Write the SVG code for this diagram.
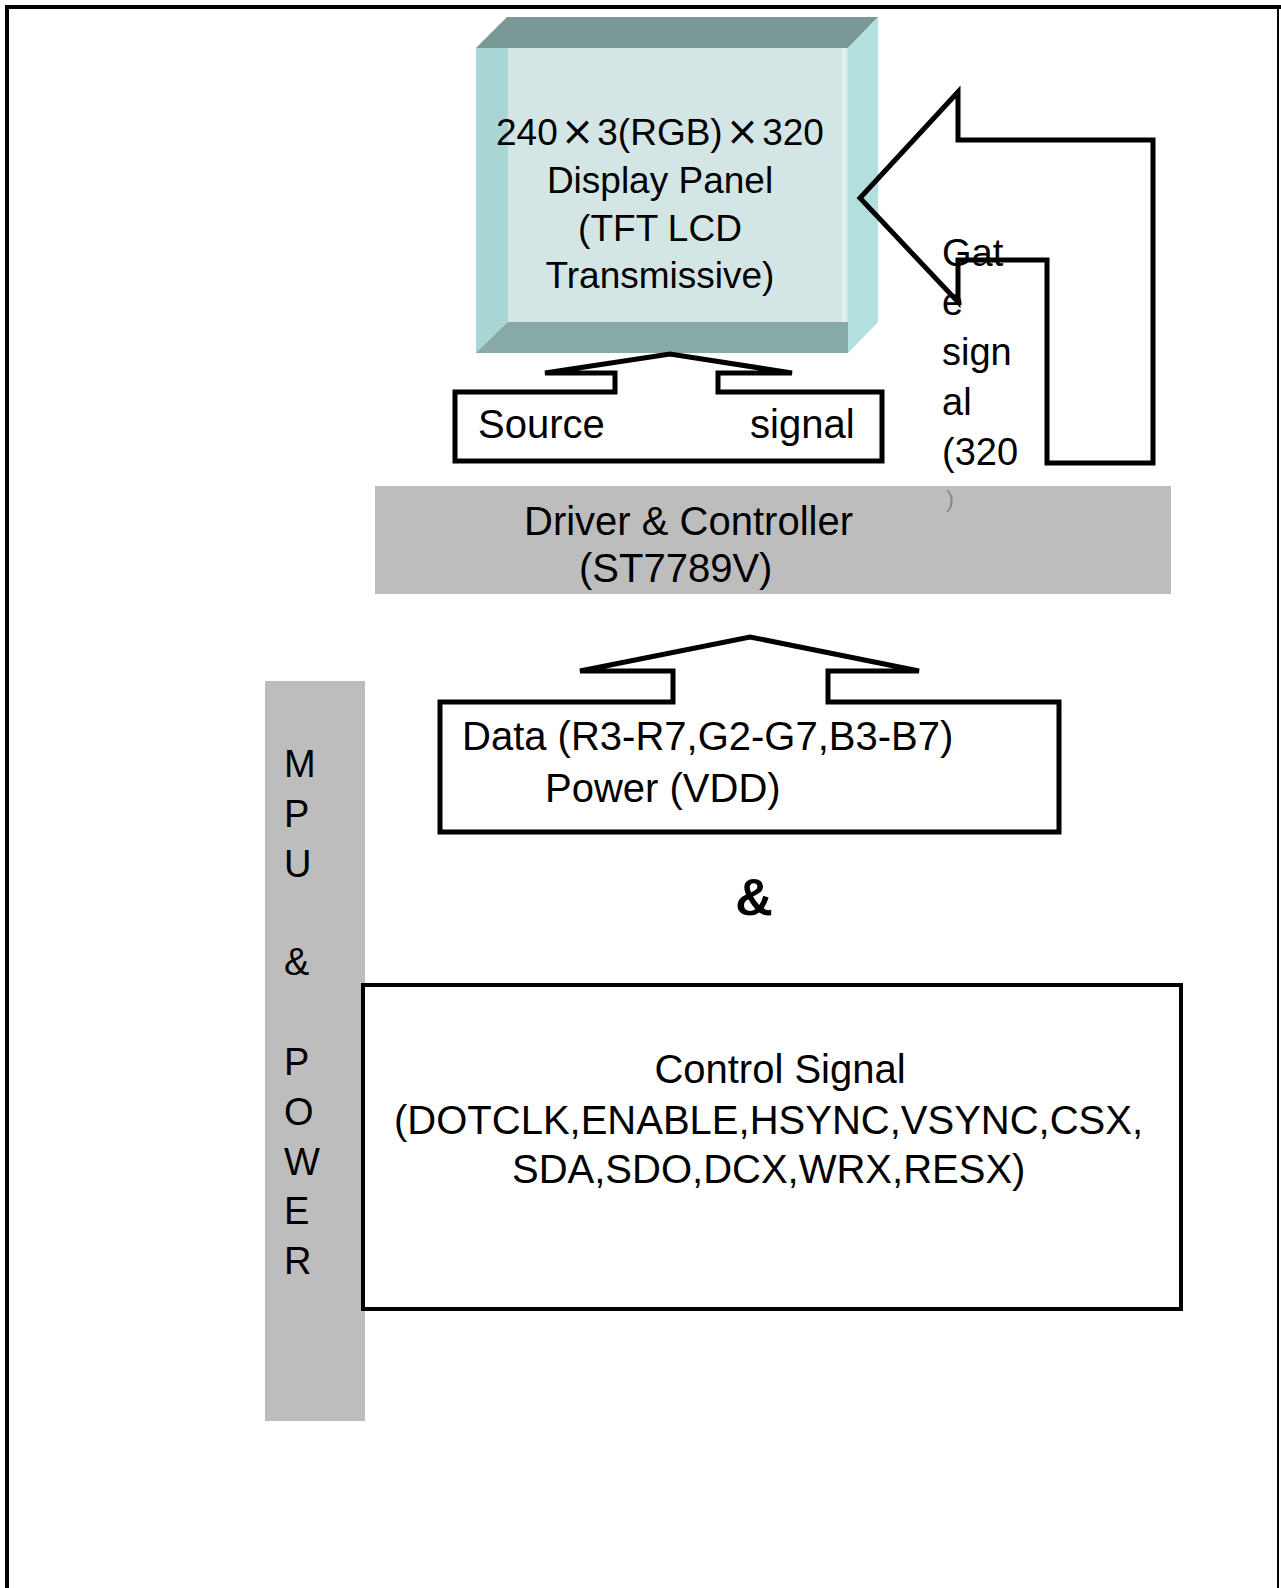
<svg xmlns="http://www.w3.org/2000/svg" width="1281" height="1588" viewBox="0 0 1281 1588">
<style>
text{font-family:"Liberation Sans",Arial,sans-serif;fill:#000}
.t40{font-size:40px}
.t38{font-size:38px}
.t37{font-size:37px}
.x{font-family:"DejaVu Sans","Noto Sans",sans-serif;font-size:40px}
.ol{fill:none;stroke:#000;stroke-width:5;stroke-linejoin:miter}
.gray{fill:#bdbdbd}
</style>
<rect x="0" y="0" width="1281" height="1588" fill="#fff"/>
<g id="frame">
<line x1="5" y1="7" x2="1281" y2="7" stroke="#000" stroke-width="4"/>
<line x1="7" y1="5" x2="7" y2="1588" stroke="#000" stroke-width="4"/>
<line x1="1278" y1="7" x2="1278" y2="1588" stroke="#000" stroke-width="2"/>
</g>
<g id="panel">
<polygon points="476,48 507,17 878,17 848,48" fill="#7a9896"/>
<polygon points="848,48 878,17 878,322 848,353" fill="#b3e0df"/>
<rect x="476" y="48" width="372" height="305" fill="#a9d5d4"/>
<rect x="508" y="48" width="340" height="274" fill="#d3e5e5"/>
<line x1="844" y1="48" x2="844" y2="322" stroke="#e6f2f2" stroke-width="3"/>
<polygon points="476,353 508,322 848,322 848,353" fill="#87a9a8"/>
<text class="t37" x="660" y="145" text-anchor="middle">240<tspan class="x" dx="3">×</tspan><tspan dx="3">3(RGB)</tspan><tspan class="x" dx="3">×</tspan><tspan dx="3">320</tspan></text>
<text class="t37" x="660" y="193" text-anchor="middle">Display Panel</text>
<text class="t37" x="660" y="241" text-anchor="middle">(TFT LCD</text>
<text class="t37" x="660" y="288" text-anchor="middle">Transmissive)</text>
</g>
<g id="connectors">
<g id="source-signal">
<path class="ol" d="M455,392 L615,392 L615,373 L545,373 L670,354 L792,373 L718,373 L718,392 L882,392 L882,461 L455,461 Z"/>
<text class="t40" x="478" y="438">Source</text>
<text class="t40" x="750" y="438">signal</text>
</g>
<g id="gate-signal">
<path class="ol" d="M958,92 L958,140 L1153,140 L1153,463 L1047,463 L1047,260 L958,260 L958,302 L860,198 Z"/>
<text class="t38" x="942" y="266">Gat</text>
<text class="t38" x="942" y="315">e</text>
<text class="t38" x="942" y="365">sign</text>
<text class="t38" x="942" y="415">al</text>
<text class="t38" x="942" y="465">(320</text>
</g>
<g id="data-power">
<path class="ol" d="M440,702 L673,702 L673,671 L580,671 L750,637 L919,671 L828,671 L828,702 L1059,702 L1059,832 L440,832 Z"/>
<text class="t40" x="462" y="750">Data (R3-R7,G2-G7,B3-B7)</text>
<text class="t40" x="545" y="802">Power (VDD)</text>
</g>
</g>
<g id="driver">
<rect class="gray" x="375" y="486" width="796" height="108"/>
<text class="t40" x="524" y="535">Driver &amp; Controller</text>
<text class="t40" x="579" y="582">(ST7789V)</text>
<text x="946" y="507" style="font-size:24px;fill:#8a8a8a">)</text>
</g>
<g id="mpu-power">
<rect class="gray" x="265" y="681" width="100" height="740"/>
<text class="t38" x="284" y="777">M</text>
<text class="t38" x="284" y="827">P</text>
<text class="t38" x="284" y="877">U</text>
<text class="t38" x="284" y="975">&amp;</text>
<text class="t38" x="284" y="1075">P</text>
<text class="t38" x="284" y="1125">O</text>
<text class="t38" x="284" y="1175">W</text>
<text class="t38" x="284" y="1224">E</text>
<text class="t38" x="284" y="1274">R</text>
</g>
<g id="amp">
<text x="754" y="915" text-anchor="middle" style="font-size:52px;font-weight:bold">&amp;</text>
</g>
<g id="control">
<rect x="363" y="985" width="818" height="324" fill="#fff" stroke="#000" stroke-width="4"/>
<text class="t40" x="780" y="1083" text-anchor="middle">Control Signal</text>
<text class="t40" x="394" y="1134">(DOTCLK,ENABLE,HSYNC,VSYNC,CSX,</text>
<text class="t40" x="512" y="1183">SDA,SDO,DCX,WRX,RESX)</text>
</g>
</svg>
